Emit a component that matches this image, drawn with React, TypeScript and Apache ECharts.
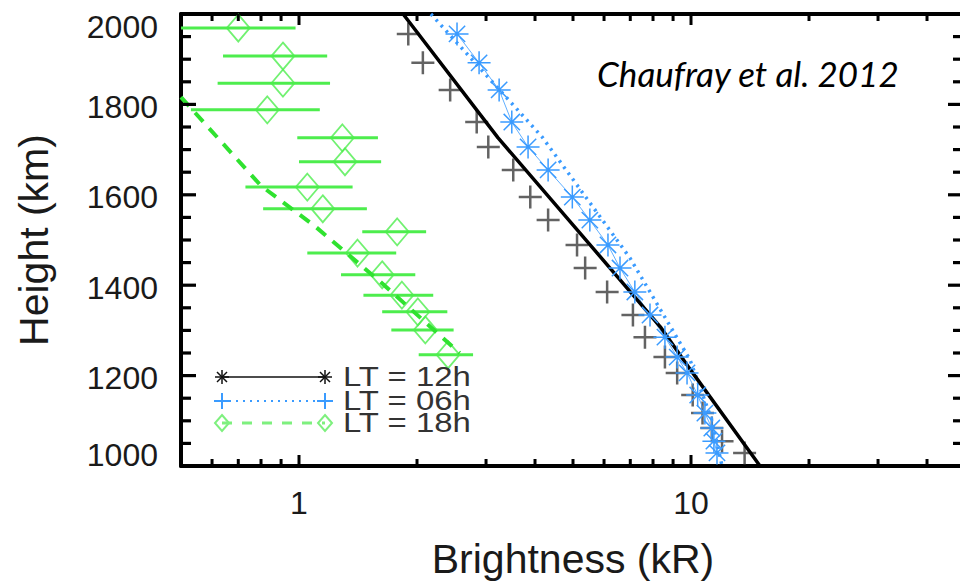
import { useEffect, useRef } from "react";
import * as echarts from "echarts";

// ---------- data ----------
const xMajorTicks = [1, 10];
const xMinorTicks = [0.6, 0.7, 0.8, 0.9, 2, 3, 4, 5, 6, 7, 8, 9, 20, 30, 40];
const yMajorTicks = [1200, 1400, 1600, 1800];
const yMinorTicks = [1050, 1100, 1150, 1250, 1300, 1350, 1450, 1500, 1550, 1650, 1700, 1750, 1850, 1900, 1950];

// LT = 12h and LT = 06h observations share the same altitude bins (km)
const obsHeights = [1956, 1892, 1832, 1761, 1706, 1655, 1595, 1544, 1489, 1438, 1385, 1334, 1285, 1241, 1206, 1157, 1117, 1084, 1055, 1029];
const lt12Obs = [1.9, 2.07, 2.43, 2.84, 3.04, 3.52, 3.89, 4.32, 5.12, 5.37, 6.11, 7.11, 7.63, 8.58, 9.22, 10.1, 10.7, 11.3, 12.0, 13.7];
const lt06Obs = [2.53, 2.88, 3.24, 3.49, 3.84, 4.32, 4.98, 5.52, 6.14, 6.59, 7.19, 7.86, 8.58, 9.22, 9.77, 10.4, 10.85, 11.3, 11.44, 11.65];

// model curves
const lt12ModelX = [1.843, 3.22, 5.62, 8.35, 10.1, 15.0];
const lt12ModelH = [2000, 1726, 1482, 1308, 1206, 1000];
const lt06ModelX = [2.17, 4.17, 6.99, 9.94, 11.3, 12.0];
const lt06ModelH = [2000, 1728, 1460, 1235, 1102, 1000];
const lt18ModelX = [0.5, 0.8, 1.1, 1.6, 2.57];
const lt18ModelH = [1816, 1620, 1530, 1410, 1250];

// LT = 18h observations with horizontal error bars
const lt18Heights = [1969, 1907, 1847, 1788, 1726, 1673, 1617, 1569, 1518, 1471, 1423, 1378, 1341, 1301, 1246];
const lt18Obs = [0.7, 0.91, 0.91, 0.83, 1.29, 1.31, 1.05, 1.15, 1.78, 1.41, 1.63, 1.83, 2.01, 2.1, 2.4];
const lt18Err = [0.28, 0.27, 0.29, 0.3, 0.3, 0.31, 0.32, 0.34, 0.33, 0.36, 0.35, 0.37, 0.38, 0.38, 0.38];

const legendLabels = ["LT = 12h", "LT = 06h", "LT = 18h"];
const xAxisName = "Brightness (kR)";
const yAxisName = "Height (km)";
const citation = "Chaufray et al. 2012";

// ---------- styles ----------
const FONT = "'Liberation Sans', Arial, Helvetica, sans-serif";
const TXT = "#1a1a1a";
const GREEN = "#4ded4d";
const GREEN_DASH = "#2fe22f";
const BLUE = "#3a9bff";
const GREY = "#3c3c3c";

const PLUS_PATH = "path://M0,10L20,10M10,0L10,20";
const STAR_PATH = "path://M0,12L24,12M12,0L12,24M3.5,3.5L20.5,20.5M3.5,20.5L20.5,3.5";

function seg(x1: number, y1: number, x2: number, y2: number, stroke: string, lw: number, dash?: number[]) {
  return {
    type: "line",
    shape: { x1, y1, x2, y2 },
    style: { stroke, lineWidth: lw, lineDash: dash },
    z: 100,
  };
}

function legendSymbol(kind: string, cx: number, cy: number, color: string): any[] {
  if (kind === "star") {
    const r = 7;
    const d = 5;
    return [
      seg(cx - r, cy, cx + r, cy, color, 1.5),
      seg(cx, cy - r, cx, cy + r, color, 1.5),
      seg(cx - d, cy - d, cx + d, cy + d, color, 1.5),
      seg(cx - d, cy + d, cx + d, cy - d, color, 1.5),
    ];
  }
  if (kind === "plus") {
    const r = 8;
    return [seg(cx - r, cy, cx + r, cy, color, 2), seg(cx, cy - r, cx, cy + r, color, 2)];
  }
  return [
    {
      type: "polygon",
      shape: { points: [[cx, cy - 8], [cx + 7, cy], [cx, cy + 8], [cx - 7, cy]] },
      style: { fill: "none", stroke: color, lineWidth: 2 },
      z: 100,
    },
  ];
}

export default function App() {
  const ref = useRef<HTMLDivElement>(null);

  useEffect(() => {
    if (!ref.current) return;
    const chart = echarts.init(ref.current, null, { renderer: "svg" });

    const axisLineStyle = { color: "#000", width: 4 };
    const yLabelRich = {
      n: { fontSize: 32, fontFamily: FONT, color: TXT, padding: [5, 0, 0, 0] },
      top: { fontSize: 32, fontFamily: FONT, color: TXT, padding: [26, 0, 0, 0] },
      bot: { fontSize: 32, fontFamily: FONT, color: TXT, padding: [0, 0, 22, 0] },
    };

    const option: any = {
      animation: false,
      grid: { left: 181, top: 14, width: 784, height: 452, containLabel: false },
      xAxis: [
        {
          type: "log",
          logBase: 10,
          min: 0.5,
          max: 50,
          position: "bottom",
          axisLine: { show: true, onZero: false, lineStyle: axisLineStyle },
          axisTick: { show: false },
          splitLine: { show: false },
          axisLabel: {
            show: true,
            margin: 21,
            fontSize: 32,
            fontFamily: FONT,
            color: TXT,
            showMinLabel: false,
            showMaxLabel: false,
            formatter: (v: number) => String(Math.round(v * 1000) / 1000),
          },
          name: xAxisName,
          nameLocation: "middle",
          nameGap: 72,
          nameTextStyle: { fontSize: 41, fontFamily: FONT, color: TXT },
        },
        {
          type: "log",
          logBase: 10,
          min: 0.5,
          max: 50,
          position: "top",
          axisLine: { show: true, onZero: false, lineStyle: axisLineStyle },
          axisTick: { show: false },
          splitLine: { show: false },
          axisLabel: { show: false },
        },
      ],
      yAxis: [
        {
          type: "value",
          min: 1000,
          max: 2000,
          interval: 200,
          position: "left",
          axisLine: { show: true, onZero: false, lineStyle: axisLineStyle },
          axisTick: { show: false },
          splitLine: { show: false },
          axisLabel: {
            margin: 23,
            formatter: (v: number) => (v === 2000 ? `{top|${v}}` : v === 1000 ? `{bot|${v}}` : `{n|${v}}`),
            rich: yLabelRich,
          },
          name: yAxisName,
          nameLocation: "middle",
          nameGap: 127,
          nameTextStyle: { fontSize: 41, fontFamily: FONT, color: TXT },
        },
        {
          type: "value",
          min: 1000,
          max: 2000,
          interval: 200,
          position: "right",
          axisLine: { show: true, onZero: false, lineStyle: axisLineStyle },
          axisTick: { show: false },
          splitLine: { show: false },
          axisLabel: { show: false },
        },
      ],
      series: [
        {
          type: "custom",
          name: "LT18 error",
          silent: true,
          xAxisIndex: 0,
          yAxisIndex: 0,
          data: lt18Heights.map((h, i) => [lt18Obs[i] - lt18Err[i], lt18Obs[i] + lt18Err[i], h]),
          encode: { x: [0, 1], y: 2 },
          renderItem: (params: any, api: any) => {
            const a = api.coord([api.value(0), api.value(2)]);
            const b = api.coord([api.value(1), api.value(2)]);
            const cs = params.coordSys;
            const x1 = Math.max(a[0], cs.x);
            const x2 = Math.min(b[0], cs.x + cs.width);
            return { type: "line", shape: { x1, y1: a[1], x2, y2: b[1] }, style: { stroke: GREEN, lineWidth: 3 } };
          },
        },
        {
          type: "scatter",
          name: "LT18 obs",
          xAxisIndex: 0,
          yAxisIndex: 0,
          symbol: "diamond",
          symbolSize: [23, 27],
          itemStyle: { color: "rgba(0,0,0,0)", borderColor: GREEN, borderWidth: 1.8 },
          data: lt18Heights.map((h, i) => [lt18Obs[i], h]),
        },
        {
          type: "line",
          name: "LT18 model",
          xAxisIndex: 0,
          yAxisIndex: 0,
          symbol: "none",
          lineStyle: { color: GREEN_DASH, width: 4, type: [12, 9] },
          data: lt18ModelX.map((x, i) => [x, lt18ModelH[i]]),
        },
        {
          type: "line",
          name: "LT06 model",
          xAxisIndex: 0,
          yAxisIndex: 0,
          symbol: "none",
          lineStyle: { color: BLUE, width: 3.5, type: [2.5, 5] },
          data: lt06ModelX.map((x, i) => [x, lt06ModelH[i]]),
        },
        {
          type: "line",
          name: "LT06 obs",
          xAxisIndex: 0,
          yAxisIndex: 0,
          symbol: STAR_PATH,
          symbolSize: 23,
          itemStyle: { color: BLUE, borderColor: BLUE, borderWidth: 1.5 },
          lineStyle: { color: BLUE, width: 1, opacity: 0.8 },
          data: obsHeights.map((h, i) => [lt06Obs[i], h]),
        },
        {
          type: "line",
          name: "LT12 model",
          xAxisIndex: 0,
          yAxisIndex: 0,
          symbol: "none",
          lineStyle: { color: "#000", width: 3.5 },
          data: lt12ModelX.map((x, i) => [x, lt12ModelH[i]]),
        },
        {
          type: "scatter",
          name: "LT12 obs",
          xAxisIndex: 0,
          yAxisIndex: 0,
          symbol: PLUS_PATH,
          symbolSize: 23,
          itemStyle: { color: GREY, borderColor: GREY, borderWidth: 2.5 },
          data: obsHeights.map((h, i) => [lt12Obs[i], h]),
        },
      ],
    };

    chart.setOption(option);

    // ---------- ticks (positions from the chart's own axes), legend and citation ----------
    const graphics: any[] = [];
    const finder: any = { xAxisIndex: 0, yAxisIndex: 0 };
    const pTop = chart.convertToPixel(finder, [1, 2000]) as any;
    const pBot = chart.convertToPixel(finder, [1, 1000]) as any;
    const pL = chart.convertToPixel(finder, [0.5, 1500]) as any;
    const pR = chart.convertToPixel(finder, [50, 1500]) as any;
    const topY = pTop[1];
    const botY = pBot[1];
    const leftX = pL[0];
    const rightX = pR[0];
    const addX = (vals: number[], len: number) => {
      vals.forEach((v) => {
        const p = chart.convertToPixel(finder, [v, 1500]) as any;
        graphics.push({ type: "line", silent: true, z: 120, shape: { x1: p[0], y1: botY, x2: p[0], y2: botY - len }, style: { stroke: "#000", lineWidth: 3 } });
        graphics.push({ type: "line", silent: true, z: 120, shape: { x1: p[0], y1: topY, x2: p[0], y2: topY + len }, style: { stroke: "#000", lineWidth: 3 } });
      });
    };
    const addY = (vals: number[], lenL: number, lenR: number) => {
      vals.forEach((v) => {
        const p = chart.convertToPixel(finder, [1, v]) as any;
        graphics.push({ type: "line", silent: true, z: 120, shape: { x1: leftX, y1: p[1], x2: leftX + lenL, y2: p[1] }, style: { stroke: "#000", lineWidth: 3.2 } });
        graphics.push({ type: "line", silent: true, z: 120, shape: { x1: rightX, y1: p[1], x2: rightX - lenR, y2: p[1] }, style: { stroke: "#000", lineWidth: 3.2 } });
      });
    };
    addX(xMajorTicks, 11);
    addX(xMinorTicks, 7);
    addY(yMajorTicks, 15, 17);
    addY(yMinorTicks, 10, 12);

    const legendRows = [
      { y: 377, kind: "star", color: "#111", lineDash: undefined as any, lw: 1.5 },
      { y: 401, kind: "plus", color: BLUE, lineDash: [2, 5], lw: 2 },
      { y: 423, kind: "diamond", color: "#7ef07e", lineDash: [10, 10], lw: 3 },
    ];
    legendRows.forEach((r, i) => {
      graphics.push(seg(222, r.y, 325, r.y, r.color, r.lw, r.lineDash));
      graphics.push(...legendSymbol(r.kind, 222, r.y, r.color));
      graphics.push(...legendSymbol(r.kind, 325, r.y, r.color));
      graphics.push({
        type: "text",
        x: 343,
        y: r.y,
        scaleX: 1.22,
        z: 100,
        style: { text: legendLabels[i], fontSize: 27, fontFamily: FONT, fill: "#333", align: "left", verticalAlign: "middle" },
      });
    });
    graphics.push({
      type: "text",
      x: 597,
      y: 73,
      z: 100,
      style: { text: citation, fontSize: 35, fontFamily: "Lato, 'Open Sans', sans-serif", fontStyle: "italic", fill: "#000", align: "left", verticalAlign: "middle" },
    });

    chart.setOption({ graphic: graphics });

    return () => {
      chart.dispose();
    };
  }, []);

  return (
    <div style={{ position: "fixed", left: 0, top: 0, width: 960, height: 585, overflow: "hidden", background: "#fff" }}>
      <div ref={ref} style={{ width: 970, height: 585 }} />
    </div>
  );
}
